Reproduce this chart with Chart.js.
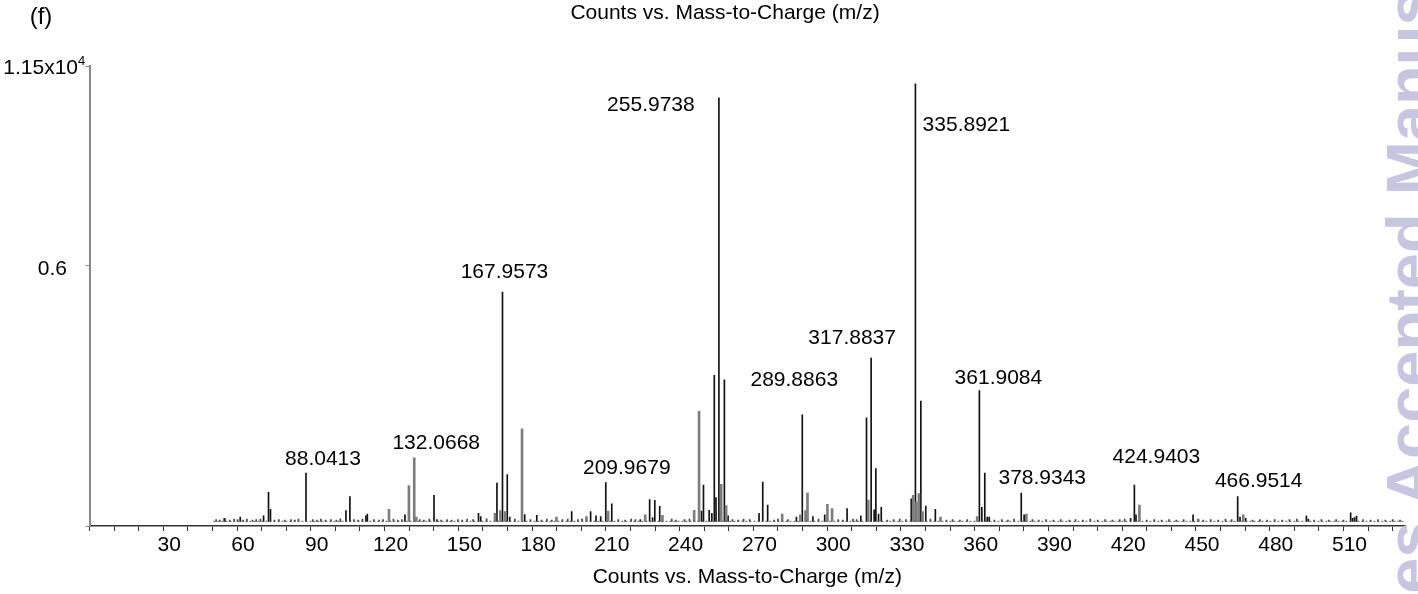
<!DOCTYPE html>
<html>
<head>
<meta charset="utf-8">
<script src="https://cdn.jsdelivr.net/npm/chart.js@4.4.0/dist/chart.umd.min.js"></script>
<style>
  html, body { margin: 0; padding: 0; background: #fff; overflow: hidden; }
  #wrap { position: relative; width: 1418px; height: 594px; overflow: hidden; }
  #watermark {
    position: absolute; left: 1377px; top: 630px;
    transform-origin: left top; transform: rotate(-90deg);
    font: bold 65px 'Liberation Sans', Arial, sans-serif; line-height: 65px;
    color: #c6c6e0; white-space: nowrap; pointer-events: none;
  }
</style>
</head>
<body>
<div id="wrap">
  <canvas id="spectrum" width="1418" height="594"></canvas>
  <div id="watermark">ces Accepted Manus</div>
</div>
<script>
// m/z and intensity (x10^4 counts)
const blackMz = [54.8, 61.3, 70.8, 72.8, 73.6, 88.0413, 104.3, 105.9, 112.4, 113.0,
  128.3, 140.1, 141.3, 158.2, 159.1, 165.7, 167.9573, 169.9, 170.9, 177.0,
  181.9, 196.1, 203.8, 206.0, 207.9, 209.9679, 212.4, 224.0, 227.8, 229.0,
  229.9, 231.9, 248.9, 249.7, 252.0, 253.1, 254.1, 254.8, 255.9738, 258.2,
  259.7, 272.3, 273.8, 275.8, 287.5, 289.8863, 294.2, 299.0, 308.1, 313.7,
  316.0, 317.8837, 319.1, 319.8, 320.9, 322.0, 334.2, 335.8921, 338.1, 340.1,
  344.0, 361.9084, 362.9, 364.1, 365.1, 365.9, 378.9343, 380.1, 423.4, 424.9403,
  425.6, 448.8, 466.9514, 467.9, 470.2, 494.9, 495.7, 512.9, 513.7, 514.5, 515.3];
const blackInt = [0.007, 0.010, 0.013, 0.068, 0.028, 0.113, 0.025, 0.058, 0.013, 0.017,
  0.015, 0.061, 0.004, 0.019, 0.011, 0.090, 0.538, 0.110, 0.010, 0.016,
  0.014, 0.023, 0.023, 0.013, 0.011, 0.091, 0.041, 0.004, 0.051, 0.009,
  0.049, 0.035, 0.024, 0.085, 0.026, 0.019, 0.343, 0.056, 0.994, 0.332,
  0.013, 0.019, 0.092, 0.038, 0.010, 0.250, 0.011, 0.015, 0.030, 0.013,
  0.243, 0.383, 0.027, 0.124, 0.017, 0.033, 0.053, 1.027, 0.282, 0.036,
  0.028, 0.307, 0.033, 0.113, 0.010, 0.010, 0.066, 0.015, 0.007, 0.085,
  0.015, 0.015, 0.058, 0.010, 0.007, 0.013, 0.005, 0.020, 0.007, 0.009, 0.012];

const grayMz = [121.8, 129.9, 132.0668, 132.9, 164.9, 167.1, 169.0, 175.9, 189.9, 202.1,
  210.9, 226.0, 233.0, 245.9, 247.9, 256.9, 258.9, 281.7, 289.1, 291.2,
  292.0, 300.1, 302.0, 316.7, 335.0, 336.3, 337.3, 338.8, 346.1, 361.0,
  381.0, 427.0, 450.9, 469.2];
const grayInt = [0.028, 0.084, 0.149, 0.010, 0.019, 0.025, 0.023, 0.217, 0.010, 0.011,
  0.024, 0.015, 0.014, 0.026, 0.258, 0.087, 0.037, 0.017, 0.015, 0.025,
  0.066, 0.040, 0.030, 0.050, 0.061, 0.045, 0.065, 0.023, 0.010, 0.011,
  0.017, 0.038, 0.005, 0.015];

// small noise peaks along the baseline
const noiseMz = [51.5, 53, 55.2, 57, 58.8, 60.2, 62.5, 64, 66.3, 67.8,
  69.5, 75.2, 77, 79.4, 81.9, 83.5, 85, 90.8, 92.5, 94.1,
  96, 98.2, 100.4, 102, 107.5, 109.3, 111, 115.6, 117.8, 119.4,
  123.6, 125.4, 127, 134.3, 136, 138.2, 143, 145.5, 147.3, 149.8,
  151.5, 153.6, 156, 161.5, 173, 179.3, 183.8, 186, 188, 192.3,
  194.5, 198.6, 200.3, 215, 217.8, 220.3, 222, 236.8, 238.5, 242,
  244, 261.5, 263.8, 266, 268.5, 278.4, 280, 284, 296.5, 304.5,
  306.4, 310.5, 312, 324.5, 327, 329.5, 332, 342, 348.5, 351,
  354, 357, 368, 371, 373.5, 376, 383.5, 386, 389, 392,
  395, 398.5, 401, 404, 407, 410, 413, 416, 419, 421,
  430, 433, 436, 439, 442, 445, 453, 456, 459, 462,
  464.5, 473, 476, 479, 482, 485, 488, 491, 498, 501,
  504, 507, 510, 518, 521, 524, 527, 530, 533];
const noiseInt = [0.004, 0.003, 0.006, 0.003, 0.005, 0.004, 0.003, 0.005, 0.003, 0.004,
  0.005, 0.003, 0.004, 0.003, 0.004, 0.003, 0.005, 0.004, 0.003, 0.005,
  0.003, 0.004, 0.003, 0.006, 0.004, 0.003, 0.005, 0.004, 0.003, 0.004,
  0.005, 0.003, 0.004, 0.004, 0.003, 0.005, 0.003, 0.004, 0.003, 0.004,
  0.003, 0.005, 0.004, 0.006, 0.005, 0.004, 0.003, 0.005, 0.003, 0.004,
  0.005, 0.004, 0.006, 0.004, 0.003, 0.005, 0.004, 0.005, 0.003, 0.004,
  0.005, 0.004, 0.003, 0.005, 0.004, 0.003, 0.005, 0.004, 0.005, 0.004,
  0.003, 0.005, 0.004, 0.003, 0.004, 0.005, 0.004, 0.005, 0.003, 0.004,
  0.003, 0.004, 0.003, 0.004, 0.003, 0.005, 0.004, 0.003, 0.004, 0.003,
  0.004, 0.003, 0.004, 0.003, 0.005, 0.003, 0.004, 0.003, 0.004, 0.005,
  0.003, 0.004, 0.003, 0.004, 0.003, 0.004, 0.003, 0.004, 0.003, 0.005,
  0.004, 0.003, 0.004, 0.003, 0.004, 0.003, 0.004, 0.005, 0.003, 0.004,
  0.003, 0.004, 0.003, 0.004, 0.003, 0.004, 0.003, 0.004, 0.003];

// acquisition range (baseline drawn across it)
const baselineMz = [50.4, 535];

const labelMz = [88.0413, 132.0668, 167.9573, 209.9679, 255.9738, 289.8863,
  317.8837, 335.8921, 361.9084, 378.9343, 424.9403, 466.9514];

const xMax = 535;
const yMin = -0.011;
const yMax = 1.069;
const yTickLabel = '0.6';
const yTickValue = 0.6;
const yTopBase = '1.15x10';
const yTopExp = '4';

// pixel nudges for the peak labels (dx, dy from the peak tip)
const labelOffsets = [[17, -14], [22, -15], [2, -20], [21, -14], [-68, 7], [-8, -35],
  [-19, -20], [51, 41], [19, -12], [21, -15], [22, -28], [21, -15]];

const FONT = "'Liberation Sans', Arial, sans-serif";

function toPoints(xs, ys) {
  return xs.map((x, i) => ({ x: x, y: ys[i] }));
}

function peakHeight(mz) {
  let i = blackMz.indexOf(mz);
  if (i >= 0) return blackInt[i];
  i = grayMz.indexOf(mz);
  return i >= 0 ? grayInt[i] : 0;
}

const overlayText = {
  id: 'overlayText',
  afterDatasetsDraw(chart) {
    const ctx = chart.ctx;
    const xs = chart.scales.x;
    const ys = chart.scales.y;
    ctx.save();
    ctx.fillStyle = '#000';
    ctx.textAlign = 'center';
    ctx.textBaseline = 'middle';
    ctx.font = '21px ' + FONT;
    labelMz.forEach((mz, i) => {
      const px = xs.getPixelForValue(mz) + labelOffsets[i][0];
      const py = ys.getPixelForValue(peakHeight(mz)) + labelOffsets[i][1];
      ctx.fillText(mz.toFixed(4), px, py);
    });
    ctx.restore();
  },
  afterDraw(chart) {
    const ctx = chart.ctx;
    const ys = chart.scales.y;
    ctx.save();
    ctx.fillStyle = '#000';
    ctx.font = '21px ' + FONT;
    ctx.textBaseline = 'alphabetic';
    ctx.textAlign = 'center';
    ctx.fillText('Counts vs. Mass-to-Charge (m/z)', 725, 19);
    ctx.font = '24px ' + FONT;
    ctx.fillText('(f)', 41, 24);
    ctx.font = '21px ' + FONT;
    ctx.textAlign = 'right';
    ctx.fillText(yTickLabel, 67, ys.getPixelForValue(yTickValue) + 9);
    const topY = ys.getPixelForValue(yMax);
    ctx.fillText(yTopBase, 78, topY + 8);
    ctx.font = '13px ' + FONT;
    ctx.textAlign = 'left';
    ctx.fillText(yTopExp, 78, topY - 1);
    ctx.restore();
  }
};

const ctx = document.getElementById('spectrum').getContext('2d');
new Chart(ctx, {
  type: 'bar',
  data: {
    datasets: [
      {
        type: 'line',
        data: toPoints(baselineMz, [0, 0]),
        borderColor: '#555',
        borderWidth: 1,
        borderDash: [2, 2],
        pointRadius: 0
      },
      {
        data: toPoints(noiseMz, noiseInt),
        backgroundColor: '#444',
        barThickness: 1,
        grouped: false
      },
      {
        data: toPoints(grayMz, grayInt),
        backgroundColor: '#7d7d7d',
        barThickness: 2,
        grouped: false
      },
      {
        data: toPoints(blackMz, blackInt),
        backgroundColor: '#111',
        barThickness: 1,
        grouped: false
      }
    ]
  },
  options: {
    responsive: false,
    animation: false,
    layout: { padding: { top: 66, right: 13, left: 0, bottom: 0 } },
    plugins: {
      legend: { display: false },
      tooltip: { enabled: false },
      title: { display: false }
    },
    scales: {
      x: {
        type: 'linear',
        min: 0,
        max: xMax,
        offset: false,
        grid: { offset: false, drawOnChartArea: false, color: '#333', tickLength: 5 },
        border: { color: '#333', width: 1.5 },
        ticks: {
          stepSize: 10,
          autoSkip: false,
          includeBounds: false,
          maxRotation: 0,
          padding: 2,
          labelOffset: 6,
          color: '#000',
          font: { family: FONT, size: 21 },
          callback: v => (v > 0 && v % 30 === 0) ? String(v) : ''
        },
        title: {
          display: true,
          text: 'Counts vs. Mass-to-Charge (m/z)',
          color: '#000',
          font: { family: FONT, size: 21 },
          padding: { top: 0, bottom: 4 }
        },
        afterFit: s => { s.height = 68; }
      },
      y: {
        min: yMin,
        max: yMax,
        grid: { drawOnChartArea: false, color: '#888', tickLength: 4 },
        border: { color: '#888', width: 2 },
        ticks: { display: false },
        afterBuildTicks: s => { s.ticks = [yMin, yTickValue, yMax].map(v => ({ value: v })); },
        afterFit: s => { s.width = 89.5; }
      }
    }
  },
  plugins: [overlayText]
});
</script>
</body>
</html>
